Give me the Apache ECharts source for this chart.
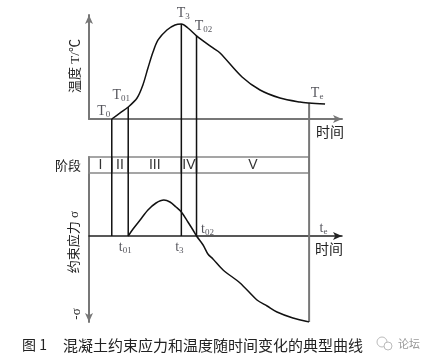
<!DOCTYPE html>
<html><head><meta charset="utf-8">
<script src="https://cdn.jsdelivr.net/npm/echarts@6/dist/echarts.min.js"></script>
<style>html,body{margin:0;padding:0;background:#fff}#c{width:432px;height:358px}</style>
</head><body><div id="c"></div>
<script>
// ---- data (arbitrary units) ----
const timeT  = [9, 12.3, 15.5, 19.0, 21.3, 23.3, 25.3, 27.3, 30.8, 34.0, 36.5, 39.1, 42.5, 49.0, 51.8, 60.5, 67.6, 75.5, 83.4, 87, 93.3];
const tempT  = [0, 5.8, 11.5, 20.2, 32.7, 49.0, 64.4, 76, 85.6, 90.4, 91.3, 87.5, 80, 68.3, 63.5, 40.4, 27.9, 20.2, 16.3, 15.4, 14.4];
const timeS  = [15.5, 17.4, 20.2, 23.3, 26.5, 29.6, 32.0, 34.4, 36.5, 39.1, 41.1, 42.5, 45.1, 47.0, 49.0, 53.0, 59.7, 66.4, 70.4, 74.3, 80.6, 87];
const stressS= [0, 7, 16, 26, 33, 36, 34, 29, 24, 14, 6, 0, -9, -18, -23, -34, -47, -64, -70, -76, -82, -86];
const keyNames = ['0', '01', '3', '02', 'e'];
const keyTimes = [9, 15.5, 36.5, 42.5, 87];
const stressKeyNames = ['01', '3', '02', 'e'];
const stageNames = ['I', 'II', 'III', 'IV', 'V'];
const stageBounds = [0, 9, 15.5, 36.5, 42.5, 87];
const tempAxisName = '温度 T/℃';
const stressAxisName = '约束应力 σ';
const negStressName = '-σ';
const stageTitle = '阶段';
const timeName = '时间';
const figNo = '图 1';
const caption = '混凝土约束应力和温度随时间变化的典型曲线';
const watermark = '论坛';

// ---- build ----
const X_MAX = 100, T_MAX = 100, S_MIN = -86, S_MAX = 79, BAND_LO = 63;
const tempAt = t => tempT[timeT.indexOf(t)];
const stressAt = t => { const i = timeS.indexOf(t); return i >= 0 ? stressS[i] : 0; };

const serif = 'Liberation Serif, Noto Sans CJK SC';
const cjk = 'Noto Sans CJK SC';
const gray = '#777', ink = '#111';

const tLabelStyle = {
  '0':  {position: 'left', distance: 1, offset: [0, -8]},
  '01': {position: 'top', distance: 3, offset: [-7, 0]},
  '3':  {position: 'top', distance: 2, offset: [2, 0]},
  '02': {position: 'top', distance: 1, offset: [7, 0]},
  'e':  {position: 'top', distance: 1, offset: [8, 0]}
};
const sLabelStyle = {
  '01': {position: 'bottom', distance: 3, offset: [-3, 0]},
  '3':  {position: 'bottom', distance: 3, offset: [-2, 0]},
  '02': {position: 'right', distance: 4, offset: [0, -7]},
  'e':  {position: 'right', distance: 10, offset: [0, -8]}
};
const rich = {
  m: {fontSize: 14, fontFamily: serif, lineHeight: 16, verticalAlign: 'middle', color: '#2b2b33'},
  s: {fontSize: 9, fontFamily: serif, lineHeight: 16, verticalAlign: 'bottom', color: '#2b2b33'}
};

function axisPair(i, showX, showY, xLine, yLine) {
  return {
    x: {type: 'value', gridIndex: i, min: 0, max: X_MAX, show: showX,
        axisLine: Object.assign({show: showX, onZero: true}, xLine || {}),
        axisTick: {show: false}, axisLabel: {show: false}, splitLine: {show: false}},
    y: {type: 'value', gridIndex: i, show: showY,
        axisLine: Object.assign({show: showY}, yLine || {}),
        axisTick: {show: false}, axisLabel: {show: false}, splitLine: {show: false}}
  };
}
const a0 = axisPair(0, true, true,
  {symbol: ['none', 'arrow'], symbolSize: [6, 9], lineStyle: {color: gray, width: 2}},
  {symbol: ['none', 'arrow'], symbolSize: [6, 9], lineStyle: {color: gray, width: 2}});
a0.y.min = 0; a0.y.max = T_MAX;
const a1 = axisPair(1, false, false);
a1.y.min = 0; a1.y.max = 1;
const a2 = axisPair(2, true, true,
  {symbol: ['none', 'arrow'], symbolSize: [6, 9], lineStyle: {color: '#222', width: 1.5}},
  {symbol: ['arrow', 'none'], symbolSize: [6, 9], lineStyle: {color: gray, width: 2}});
a2.y.min = S_MIN; a2.y.max = S_MAX;

const series = [];
series.push({type: 'line', xAxisIndex: 0, yAxisIndex: 0, smooth: 0.3, symbol: 'none',
  lineStyle: {color: ink, width: 1.5}, data: timeT.map((t, i) => [t, tempT[i]]), z: 3});
series.push({type: 'line', xAxisIndex: 2, yAxisIndex: 2, smooth: 0.3, symbol: 'none',
  lineStyle: {color: ink, width: 1.5}, data: timeS.map((t, i) => [t, stressS[i]]), z: 3,
  markArea: {silent: true,
    itemStyle: {color: 'rgba(0,0,0,0)', borderColor: '#888', borderWidth: 1.5},
    label: {show: true, position: 'inside', fontSize: 14, fontFamily: 'Liberation Sans', color: '#333'},
    data: stageNames.map((n, i) => [{name: n, xAxis: stageBounds[i], yAxis: BAND_LO}, {xAxis: stageBounds[i + 1], yAxis: S_MAX}])}});
keyTimes.forEach((t, k) => {
  const isEnd = keyNames[k] === 'e';
  const ls = {color: isEnd ? gray : ink, width: isEnd ? 2 : 1.5};
  series.push({type: 'line', xAxisIndex: 0, yAxisIndex: 0, symbol: 'none', lineStyle: ls, z: 2, data: [[t, tempAt(t)], [t, 0]]});
  series.push({type: 'line', xAxisIndex: 1, yAxisIndex: 1, symbol: 'none', lineStyle: ls, z: 2, data: [[t, 0], [t, 1]]});
  series.push({type: 'line', xAxisIndex: 2, yAxisIndex: 2, symbol: 'none', lineStyle: ls, z: 2, data: [[t, S_MAX], [t, isEnd ? stressAt(t) : 0]]});
});
series.push({type: 'scatter', xAxisIndex: 0, yAxisIndex: 0, symbolSize: 1, itemStyle: {color: 'rgba(0,0,0,0)'}, z: 5,
  data: keyNames.map((n, k) => ({value: [keyTimes[k], tempAt(keyTimes[k])], name: n,
    label: Object.assign({show: true, formatter: '{m|T}{s|' + n + '}', rich: rich}, tLabelStyle[n])}))});
series.push({type: 'scatter', xAxisIndex: 2, yAxisIndex: 2, symbolSize: 1, itemStyle: {color: 'rgba(0,0,0,0)'}, z: 5,
  data: stressKeyNames.map(n => {
    const t = keyTimes[keyNames.indexOf(n)];
    return {value: [t, 0], name: n,
      label: Object.assign({show: true, formatter: '{m|t}{s|' + n + '}', rich: rich}, sLabelStyle[n])};
  })});

const txt = (o) => ({type: 'text', silent: true, style: Object.assign({fill: '#222', font: '13px ' + cjk, textAlign: 'center', textVerticalAlign: 'middle'}, o.style), x: o.x, y: o.y, rotation: o.rotation || 0});

const option = {
  animation: false,
  backgroundColor: '#fff',
  grid: [
    {left: 89, top: 15, width: 253, height: 104},
    {left: 89, top: 119, width: 253, height: 38},
    {left: 89, top: 157, width: 253, height: 165}
  ],
  xAxis: [a0.x, a1.x, a2.x],
  yAxis: [a0.y, a1.y, a2.y],
  series: series,
  graphic: [
    txt({x: 76, y: 66, rotation: Math.PI / 2, style: {text: tempAxisName, font: '13px ' + serif}}),
    txt({x: 75, y: 242, rotation: Math.PI / 2, style: {text: stressAxisName, font: '13px ' + serif}}),
    txt({x: 77, y: 314, rotation: Math.PI / 2, style: {text: negStressName, font: '13px ' + serif}}),
    txt({x: 68, y: 165, style: {text: stageTitle}}),
    txt({x: 330, y: 132, style: {text: timeName, font: '14px ' + cjk}}),
    txt({x: 329, y: 249, style: {text: timeName, font: '14px ' + cjk}}),
    txt({x: 22, y: 345, style: {text: figNo, font: '14px ' + cjk, textAlign: 'left'}}),
    txt({x: 63, y: 345, style: {text: caption, font: '15px ' + cjk, textAlign: 'left'}}),
    {type: 'circle', shape: {cx: 382, cy: 342, r: 5}, style: {fill: 'none', stroke: '#bbb', lineWidth: 1}, silent: true},
    {type: 'circle', shape: {cx: 388, cy: 346, r: 4}, style: {fill: '#fff', stroke: '#bbb', lineWidth: 1}, silent: true},
    txt({x: 398, y: 344, style: {text: watermark, font: '11px ' + cjk, fill: '#999', textAlign: 'left'}})
  ]
};
const chart = echarts.init(document.getElementById('c'), null, {renderer: 'canvas'});
chart.setOption(option);
</script></body></html>
